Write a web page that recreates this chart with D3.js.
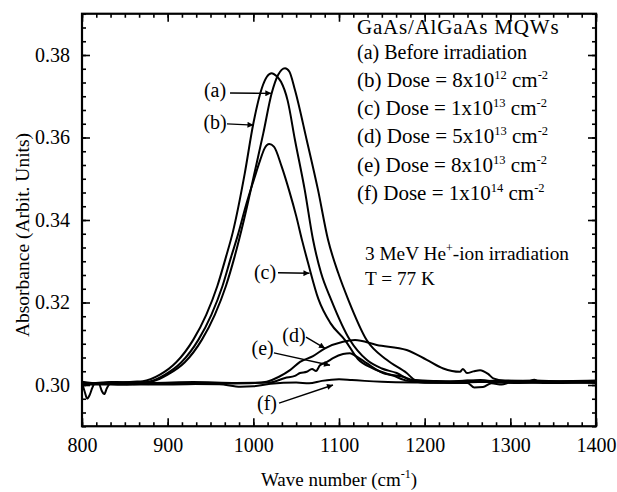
<!DOCTYPE html>
<html>
<head>
<meta charset="utf-8">
<script src="https://cdn.jsdelivr.net/npm/d3@7"></script>
<style>
  html, body { margin: 0; padding: 0; background: #fff; }
  svg text { font-family: "Liberation Serif", "Times New Roman", serif; fill: #000; }
</style>
</head>
<body>
<svg id="chart" width="617" height="492"></svg>
<script>
// Axis ticks
const xTicks = [800, 900, 1000, 1100, 1200, 1300, 1400];
const yTicks = [0.30, 0.32, 0.34, 0.36, 0.38];

// Absorbance spectra: [wave number (cm^-1), absorbance]
const curveA = [ // before irradiation
  [800,0.3006],[815,0.3003],[835,0.3007],[855,0.3004],[870,0.3006],[883,0.3009],[900,0.3025],
  [920,0.3055],[940,0.3110],[955,0.3170],[968,0.3240],[978,0.3310],[989,0.3400],[1002,0.3520],
  [1011.6,0.3610],[1021.4,0.3707],[1029,0.3752],[1033,0.3764],[1037,0.3768],[1042,0.3760],
  [1048.6,0.3715],[1062.3,0.3594],[1075.5,0.3473],[1087.2,0.3352],[1099,0.3272],[1111,0.3206],
  [1132.3,0.3109],[1155.7,0.3061],[1179,0.3029],[1189,0.3012],[1200,0.3009],[1230,0.3008],
  [1250,0.3011],[1270,0.3007],[1300,0.3010],[1330,0.3011],[1360,0.3008],[1400,0.3010]
];
const curveB = [ // 8x10^12 cm^-2
  [800,0.3008],[820,0.3004],[840,0.3005],[860,0.3008],[871,0.3009],[891,0.3025],[910,0.3055],
  [930,0.3110],[945,0.3170],[958,0.3240],[968,0.3310],[976,0.3370],[990,0.3513],[1000,0.3634],
  [1010,0.3720],[1016,0.3748],[1021.4,0.3756],[1027,0.3749],[1032.3,0.3735],[1040,0.3690],
  [1048.6,0.3594],[1060,0.3473],[1069.7,0.3352],[1079,0.3272],[1091,0.3206],[1112.8,0.3109],
  [1132.3,0.3061],[1150,0.3040],[1167.3,0.3029],[1183,0.3012],[1200,0.3006],[1240,0.3009],
  [1265,0.3012],[1290,0.3006],[1320,0.3009],[1350,0.3006],[1400,0.3007]
];
const curveC = [ // 1x10^13 cm^-2
  [800,0.3001],[825,0.3003],[850,0.3001],[866,0.3004],[879,0.3008],[897,0.3025],[916,0.3055],
  [936,0.3110],[951,0.3170],[964,0.3240],[974,0.3310],[982,0.3364],[992,0.3440],[1001,0.3500],
  [1008,0.3545],[1013,0.3573],[1018.6,0.3584],[1024,0.3578],[1033,0.3530],[1042,0.3470],
  [1050,0.3410],[1057,0.3350],[1064,0.3295],[1076,0.3208],[1090,0.3150],[1107,0.3109],
  [1122,0.3063],[1140,0.3040],[1164,0.3022],[1180,0.3010],[1200,0.3006],[1235,0.3005],
  [1270,0.3008],[1310,0.3005],[1350,0.3008],[1400,0.3005]
];
const curveD = [ // 5x10^13 cm^-2
  [800,0.3005],[803,0.2985],[806,0.2967],[809,0.2976],[812,0.2993],[815,0.3004],[820,0.3002],
  [823,0.2986],[826,0.2978],[829,0.2992],[833,0.3003],[860,0.3002],[900,0.3001],[950,0.3003],
  [1002,0.3005],[1015.6,0.3008],[1030,0.3020],[1042.8,0.3036],[1054.5,0.3056],[1069.7,0.3070],
  [1083.7,0.3089],[1104.7,0.3105],[1118.7,0.3109],[1144,0.3097],[1179,0.3085],[1202.4,0.3061],
  [1221.7,0.3040],[1241.2,0.3032],[1244.7,0.3039],[1249.4,0.3029],[1257,0.3033],[1264.6,0.3036],
  [1274,0.3027],[1280.1,0.3016],[1293.8,0.3010],[1320,0.3008],[1328,0.3013],[1333,0.3008],
  [1370,0.3009],[1400,0.3008]
];
const curveE = [ // 8x10^13 cm^-2
  [800,0.3002],[840,0.3007],[880,0.3005],[930,0.3007],[980,0.3005],[1019.5,0.3006],
  [1037,0.3017],[1048.6,0.3022],[1054.5,0.3029],[1062.3,0.3032],[1068.5,0.3039],[1073.2,0.3034],
  [1077.8,0.3048],[1086,0.3056],[1093,0.3065],[1104.7,0.3075],[1112.8,0.3077],[1119.8,0.3070],
  [1132.3,0.3053],[1151.4,0.3029],[1174.7,0.3020],[1186.4,0.3012],[1210,0.3010],[1250,0.3008],
  [1290,0.3011],[1340,0.3009],[1400,0.3011]
];
const curveF = [ // 1x10^14 cm^-2
  [800,0.3002],[840,0.3001],[900,0.3003],[960,0.3002],[985,0.2996],[1000,0.2997],[1020,0.3003],
  [1050,0.3006],[1065,0.3004],[1080,0.3010],[1100,0.3014],[1115,0.3012],[1130,0.3010],
  [1150,0.3008],[1200,0.3006],[1250,0.3005],[1258,0.2994],[1268,0.2995],[1278,0.3004],
  [1290,0.3001],[1300,0.3006],[1350,0.3005],[1400,0.3006]
];
const series = [curveA, curveB, curveC, curveD, curveE, curveF];

// Curve call-outs: label, label anchor, arrow start and arrow tip (data units)
const calloutLabels = ["(a)", "(b)", "(c)", "(d)", "(e)", "(f)"];
const calloutAt   = [[955.3,0.3715],[955.3,0.3638],[1013.6,0.3275],[1047.5,0.3121],[1010.9,0.3089],[1016,0.2956]];
const arrowFrom   = [[972.8,0.3708],[969.3,0.3633],[1028.8,0.3272],[1061.5,0.3116],[1024,0.3078],[1030,0.2956]];
const arrowTo     = [[1021,0.3707],[1000.2,0.3630],[1065.5,0.3271],[1083.7,0.3089],[1089.5,0.3048],[1093,0.3000]];

// Legend text
const legendTitle = "GaAs/AlGaAs MQWs";
const legendFirst = "(a) Before irradiation";
const doseTags = ["(b)", "(c)", "(d)", "(e)", "(f)"];
const doseMantissa = ["8x10", "1x10", "5x10", "8x10", "1x10"];
const doseExponent = ["12", "13", "13", "13", "14"];
const noteLines = ["3 MeV He", "T = 77 K"];

const svg = d3.select("#chart");
const mLeft = 82, mRight = 596, mTop = 13.75, mBottom = 426.25;

const x = d3.scaleLinear().domain([800, 1400]).range([mLeft, mRight]);
const y = d3.scaleLinear().domain([0.29, 0.39]).range([mBottom, mTop]);

const minorX = d3.range(800, 1400.01, 100 / 6);
const minorY = d3.range(0.29, 0.3901, 0.02 / 6);

// Axes with inward ticks on all four sides
function addAxis(gen, tr) {
  const g = svg.append("g").attr("transform", tr).call(gen);
  g.select(".domain").remove();
  g.selectAll("line").attr("stroke", "#000").attr("stroke-width", 1.6);
  g.selectAll("text").style("font-size", "20px").style("font-family", "'Liberation Serif', serif");
  return g;
}
addAxis(d3.axisBottom(x).tickValues(minorX).tickSize(-4).tickFormat(""), `translate(0,${mBottom})`);
addAxis(d3.axisTop(x).tickValues(minorX).tickSize(-4).tickFormat(""), `translate(0,${mTop})`);
addAxis(d3.axisLeft(y).tickValues(minorY).tickSize(-4).tickFormat(""), `translate(${mLeft},0)`);
addAxis(d3.axisRight(y).tickValues(minorY).tickSize(-4).tickFormat(""), `translate(${mRight},0)`);

addAxis(d3.axisBottom(x).tickValues(xTicks).tickSizeInner(-8).tickSizeOuter(0).tickPadding(12).tickFormat(d3.format("d")), `translate(0,${mBottom})`);
addAxis(d3.axisTop(x).tickValues(xTicks).tickSizeInner(-8).tickSizeOuter(0).tickFormat(""), `translate(0,${mTop})`);
addAxis(d3.axisLeft(y).tickValues(yTicks).tickSizeInner(-8).tickSizeOuter(0).tickPadding(12).tickFormat(d3.format(".2f")), `translate(${mLeft},0)`);
addAxis(d3.axisRight(y).tickValues(yTicks).tickSizeInner(-8).tickSizeOuter(0).tickFormat(""), `translate(${mRight},0)`);

// Frame
svg.append("rect")
  .attr("x", mLeft).attr("y", mTop)
  .attr("width", mRight - mLeft).attr("height", mBottom - mTop)
  .attr("fill", "none").attr("stroke", "#000").attr("stroke-width", 2.2);

// Spectra
const line = d3.line()
  .x(d => x(d[0])).y(d => y(d[1]))
  .curve(d3.curveMonotoneX);
svg.append("g").selectAll("path").data(series).join("path")
  .attr("d", line)
  .attr("fill", "none").attr("stroke", "#000")
  .attr("stroke-width", 2).attr("stroke-linejoin", "round");

// Arrow head marker
svg.append("defs").append("marker")
  .attr("id", "head").attr("viewBox", "0 0 10 10")
  .attr("refX", 10).attr("refY", 5)
  .attr("markerWidth", 7).attr("markerHeight", 6)
  .attr("markerUnits", "userSpaceOnUse")
  .attr("orient", "auto")
  .append("path").attr("d", "M0,0 L10,5 L0,10 Z").attr("fill", "#000");

const co = svg.append("g");
calloutLabels.forEach((lab, i) => {
  co.append("text")
    .attr("x", x(calloutAt[i][0])).attr("y", y(calloutAt[i][1]))
    .attr("text-anchor", "middle").attr("dominant-baseline", "central")
    .style("font-size", "20px").text(lab);
  co.append("line")
    .attr("x1", x(arrowFrom[i][0])).attr("y1", y(arrowFrom[i][1]))
    .attr("x2", x(arrowTo[i][0])).attr("y2", y(arrowTo[i][1]))
    .attr("stroke", "#000").attr("stroke-width", 1.4)
    .attr("marker-end", "url(#head)");
});

// Legend block
const lg = svg.append("g");
lg.append("text").attr("x", 357).attr("y", 34)
  .style("font-size", "21px").style("letter-spacing", "0.8px").text(legendTitle);
lg.append("text").attr("x", 357).attr("y", 59).style("font-size", "20px").text(legendFirst);
doseTags.forEach((tag, i) => {
  const t = lg.append("text").attr("x", 357).attr("y", 87 + i * 28.2).style("font-size", "21px");
  t.append("tspan").text(`${tag} Dose = ${doseMantissa[i]}`);
  t.append("tspan").attr("dy", -8).style("font-size", "12.5px").text(doseExponent[i]);
  t.append("tspan").attr("dy", 8).text(" cm");
  t.append("tspan").attr("dy", -8).style("font-size", "12.5px").text("-2");
});

const nt = svg.append("g").style("font-size", "19.3px");
const n1 = nt.append("text").attr("x", 365).attr("y", 260);
n1.append("tspan").text(noteLines[0]);
n1.append("tspan").attr("dy", -8).style("font-size", "12px").text("+");
n1.append("tspan").attr("dy", 8).text("-ion irradiation");
nt.append("text").attr("x", 365).attr("y", 285).text(noteLines[1]);

// Axis titles
const xt = svg.append("text").attr("x", (mLeft + mRight) / 2).attr("y", 486)
  .attr("text-anchor", "middle").style("font-size", "19px");
xt.append("tspan").text("Wave number (cm");
xt.append("tspan").attr("dy", -8).style("font-size", "12px").text("-1");
xt.append("tspan").attr("dy", 8).text(")");

svg.append("text")
  .attr("transform", "translate(29,235) rotate(-90)")
  .attr("text-anchor", "middle").style("font-size", "19.5px")
  .text("Absorbance (Arbit. Units)");
</script>
</body>
</html>
